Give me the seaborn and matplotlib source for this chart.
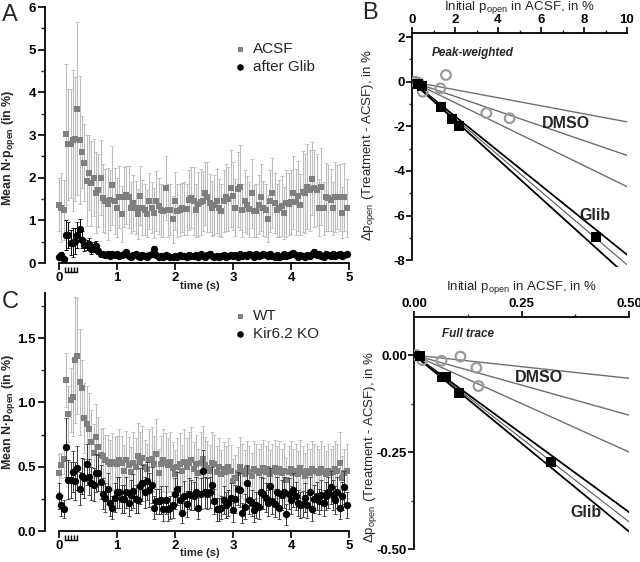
import numpy as np
import pandas as pd
import seaborn as sns
import matplotlib.pyplot as plt
from matplotlib.ticker import MultipleLocator

sns.set_theme(style='ticks')
plt.rcParams['font.family'] = ['Liberation Sans', 'DejaVu Sans']
plt.rcParams['mathtext.fontset'] = 'custom'
plt.rcParams['mathtext.rm'] = 'Liberation Sans'
plt.rcParams['mathtext.bf'] = 'Liberation Sans:bold'
plt.rcParams['mathtext.it'] = 'Liberation Sans:italic'

# time bins (s)
time = np.arange(125) * 0.04
stim_times = [0.10, 0.155, 0.21, 0.265, 0.32]

# Panel A: ACSF vs after Glib
acsf = [1.37, 1.30, 1.25, 3.02, 2.78, 2.80, 2.88, 2.90, 3.62, 2.88, 2.60, 2.35, 1.93, 2.12, 1.87, 2.00, 1.65, 1.70, 2.00, 1.52, 1.45, 1.38, 1.48, 1.82, 1.45,
        1.30, 1.55, 1.15, 1.55, 1.60, 1.55, 1.30, 1.40, 1.30, 1.15, 1.58, 1.30, 1.25, 1.15, 1.45, 1.30, 1.17, 1.46, 1.34, 1.24, 1.22, 1.75, 1.24, 1.25, 1.02,
        1.46, 1.22, 1.24, 1.30, 1.27, 1.26, 1.48, 1.53, 1.46, 1.24, 1.38, 1.43, 1.45, 1.63, 1.54, 1.40, 1.28, 1.36, 1.45, 1.30, 1.22, 1.45, 1.54, 1.50, 1.75,
        1.57, 1.30, 1.73, 1.77, 1.24, 1.45, 1.36, 1.26, 1.63, 1.22, 1.22, 1.37, 1.54, 1.28, 1.24, 1.04, 1.45, 1.63, 1.40, 1.24, 1.28, 1.34, 1.17, 1.40, 1.38,
        1.43, 1.65, 1.43, 1.57, 1.37, 1.67, 1.63, 1.79, 1.70, 1.98, 1.75, 1.71, 1.30, 1.79, 1.28, 1.55, 1.52, 1.48, 1.28, 1.54, 1.54, 1.54, 1.18, 1.54, 1.30]
acsf_err = [0.62, 0.80, 0.70, 1.65, 1.30, 1.27, 1.65, 1.45, 2.03, 1.50, 0.85, 0.90, 1.07, 0.88, 1.00, 0.90, 0.95, 0.85, 0.88, 0.80, 0.75, 0.85, 0.70, 0.92, 0.78,
            0.70, 0.72, 0.65, 0.70, 0.68, 0.72, 0.60, 0.66, 0.62, 0.58, 0.70, 0.64, 0.60, 0.55, 0.66, 0.60, 0.58, 0.70, 0.65, 0.62, 0.60, 0.75, 0.62, 0.60, 0.55,
            0.68, 0.62, 0.60, 0.58, 0.62, 0.60, 0.70, 0.72, 0.80, 0.62, 0.75, 0.78, 0.70, 0.74, 0.82, 0.68, 0.64, 0.70, 0.75, 0.66, 0.62, 0.72, 0.78, 0.74, 0.90,
            0.80, 0.66, 0.88, 1.00, 0.62, 0.72, 0.68, 0.64, 0.80, 0.60, 0.62, 0.70, 0.78, 0.64, 0.62, 0.55, 0.72, 0.82, 0.70, 0.62, 0.66, 0.70, 0.60, 0.78, 0.72,
            0.75, 0.85, 0.78, 0.82, 0.72, 0.95, 0.92, 1.00, 0.95, 0.85, 0.90, 0.85, 0.66, 0.90, 0.62, 0.80, 0.78, 0.72, 0.62, 0.82, 0.75, 0.78, 0.60, 0.80, 0.68]
glib = [0.15, 0.18, 0.10, 0.65, 0.65, 0.48, 0.48, 0.52, 0.65, 0.80, 0.55, 0.42, 0.42, 0.45, 0.32, 0.38, 0.40, 0.28, 0.22, 0.20, 0.18, 0.22, 0.17, 0.20, 0.18,
        0.20, 0.16, 0.18, 0.22, 0.25, 0.17, 0.15, 0.18, 0.20, 0.16, 0.15, 0.19, 0.17, 0.15, 0.18, 0.20, 0.32, 0.18, 0.15, 0.17, 0.14, 0.18, 0.16, 0.15, 0.14,
        0.17, 0.15, 0.18, 0.16, 0.17, 0.15, 0.19, 0.17, 0.16, 0.18, 0.15, 0.20, 0.16, 0.14, 0.18, 0.21, 0.16, 0.15, 0.17, 0.14, 0.16, 0.18, 0.15, 0.17, 0.19,
        0.16, 0.18, 0.15, 0.20, 0.17, 0.19, 0.16, 0.21, 0.18, 0.15, 0.20, 0.17, 0.19, 0.22, 0.18, 0.16, 0.21, 0.17, 0.15, 0.19, 0.14, 0.17, 0.20, 0.16, 0.18,
        0.20, 0.24, 0.18, 0.15, 0.19, 0.17, 0.14, 0.18, 0.16, 0.20, 0.25, 0.19, 0.22, 0.17, 0.15, 0.20, 0.18, 0.16, 0.21, 0.17, 0.19, 0.22, 0.16, 0.18, 0.20]
glib_err = [0.06, 0.08, 0.05, 0.35, 0.30, 0.30, 0.35, 0.30, 0.30, 0.22, 0.20, 0.15, 0.12, 0.14, 0.10, 0.12, 0.12, 0.08, 0.07, 0.06, 0.05, 0.06, 0.05, 0.06, 0.05,
            0.06, 0.05, 0.05, 0.07, 0.06, 0.05, 0.04, 0.05, 0.06, 0.05, 0.04, 0.06, 0.05, 0.04, 0.05, 0.06, 0.08, 0.05, 0.04, 0.05, 0.04, 0.05, 0.05, 0.04, 0.04,
            0.05, 0.04, 0.05, 0.05, 0.05, 0.04, 0.06, 0.05, 0.05, 0.05, 0.04, 0.06, 0.05, 0.04, 0.05, 0.06, 0.05, 0.04, 0.05, 0.04, 0.05, 0.05, 0.04, 0.05, 0.06,
            0.05, 0.05, 0.04, 0.06, 0.05, 0.05, 0.05, 0.06, 0.05, 0.04, 0.06, 0.05, 0.05, 0.06, 0.05, 0.05, 0.06, 0.05, 0.04, 0.05, 0.04, 0.05, 0.06, 0.05, 0.05,
            0.06, 0.07, 0.05, 0.04, 0.05, 0.05, 0.04, 0.05, 0.05, 0.06, 0.07, 0.05, 0.06, 0.05, 0.04, 0.06, 0.05, 0.05, 0.06, 0.05, 0.05, 0.06, 0.05, 0.05, 0.06]

# Panel C: WT vs Kir6.2 KO
wt = [0.45, 0.51, 0.56, 1.17, 0.91, 1.02, 1.04, 1.33, 1.36, 1.16, 1.11, 0.88, 0.83, 0.79, 0.69, 0.61, 0.73, 0.65, 0.59, 0.58, 0.55, 0.54, 0.52, 0.54, 0.53,
      0.52, 0.55, 0.53, 0.47, 0.55, 0.51, 0.46, 0.53, 0.50, 0.58, 0.54, 0.57, 0.50, 0.48, 0.55, 0.56, 0.52, 0.60, 0.45, 0.52, 0.55, 0.53, 0.51, 0.54, 0.49,
      0.44, 0.50, 0.52, 0.47, 0.54, 0.50, 0.53, 0.55, 0.48, 0.52, 0.45, 0.53, 0.56, 0.51, 0.49, 0.47, 0.53, 0.52, 0.46, 0.50, 0.44, 0.48, 0.46, 0.50, 0.47,
      0.39, 0.41, 0.45, 0.50, 0.47, 0.44, 0.48, 0.46, 0.43, 0.48, 0.47, 0.45, 0.47, 0.49, 0.46, 0.48, 0.44, 0.47, 0.49, 0.46, 0.48, 0.45, 0.47, 0.40, 0.46,
      0.48, 0.45, 0.47, 0.44, 0.49, 0.46, 0.43, 0.47, 0.45, 0.48, 0.47, 0.46, 0.45, 0.48, 0.46, 0.44, 0.47, 0.45, 0.46, 0.48, 0.47, 0.53, 0.41, 0.45, 0.47]
wt_err = [0.15, 0.10, 0.12, 0.21, 0.22, 0.25, 0.30, 0.49, 0.45, 0.41, 0.22, 0.27, 0.30, 0.28, 0.25, 0.22, 0.26, 0.24, 0.20, 0.22, 0.20, 0.21, 0.19, 0.22, 0.20,
          0.22, 0.24, 0.21, 0.20, 0.23, 0.22, 0.19, 0.24, 0.22, 0.26, 0.23, 0.25, 0.21, 0.20, 0.24, 0.25, 0.22, 0.27, 0.19, 0.22, 0.24, 0.23, 0.21, 0.23, 0.20,
          0.19, 0.22, 0.24, 0.20, 0.25, 0.22, 0.24, 0.26, 0.21, 0.23, 0.19, 0.24, 0.26, 0.22, 0.21, 0.20, 0.24, 0.23, 0.20, 0.22, 0.19, 0.21, 0.20, 0.22, 0.20,
          0.17, 0.18, 0.20, 0.23, 0.21, 0.19, 0.22, 0.20, 0.18, 0.22, 0.21, 0.19, 0.21, 0.22, 0.20, 0.22, 0.19, 0.21, 0.22, 0.20, 0.22, 0.19, 0.21, 0.17, 0.20,
          0.22, 0.19, 0.21, 0.18, 0.22, 0.20, 0.18, 0.21, 0.19, 0.22, 0.21, 0.20, 0.19, 0.22, 0.20, 0.18, 0.21, 0.19, 0.20, 0.22, 0.21, 0.24, 0.17, 0.19, 0.21]
ko = [0.27, 0.20, 0.17, 0.65, 0.40, 0.40, 0.46, 0.39, 0.49, 0.33, 0.43, 0.41, 0.52, 0.42, 0.37, 0.36, 0.45, 0.45, 0.38, 0.29, 0.26, 0.33, 0.22, 0.18, 0.26,
      0.30, 0.30, 0.25, 0.25, 0.30, 0.22, 0.28, 0.31, 0.25, 0.24, 0.35, 0.37, 0.30, 0.39, 0.32, 0.36, 0.18, 0.23, 0.23, 0.24, 0.17, 0.24, 0.17, 0.18, 0.20,
      0.29, 0.33, 0.24, 0.14, 0.27, 0.21, 0.29, 0.28, 0.27, 0.30, 0.18, 0.29, 0.47, 0.30, 0.29, 0.30, 0.36, 0.23, 0.17, 0.17, 0.18, 0.24, 0.20, 0.22, 0.26,
      0.16, 0.25, 0.33, 0.32, 0.14, 0.19, 0.37, 0.24, 0.22, 0.16, 0.20, 0.19, 0.30, 0.29, 0.26, 0.22, 0.35, 0.23, 0.21, 0.30, 0.18, 0.28, 0.30, 0.13, 0.29,
      0.24, 0.32, 0.27, 0.22, 0.20, 0.21, 0.26, 0.20, 0.30, 0.17, 0.25, 0.27, 0.23, 0.28, 0.22, 0.27, 0.30, 0.34, 0.28, 0.24, 0.30, 0.18, 0.27, 0.34, 0.20]
ko_err = [0.10, 0.08, 0.07, 0.23, 0.15, 0.14, 0.16, 0.15, 0.17, 0.13, 0.14, 0.15, 0.16, 0.14, 0.13, 0.13, 0.15, 0.14, 0.13, 0.12, 0.11, 0.12, 0.10, 0.09, 0.11,
          0.12, 0.12, 0.11, 0.11, 0.12, 0.10, 0.12, 0.13, 0.11, 0.10, 0.14, 0.14, 0.12, 0.15, 0.13, 0.14, 0.09, 0.10, 0.10, 0.11, 0.09, 0.11, 0.09, 0.09, 0.10,
          0.12, 0.13, 0.11, 0.08, 0.12, 0.10, 0.12, 0.12, 0.11, 0.12, 0.09, 0.12, 0.16, 0.12, 0.12, 0.12, 0.14, 0.10, 0.09, 0.09, 0.09, 0.11, 0.10, 0.10, 0.11,
          0.09, 0.11, 0.13, 0.13, 0.08, 0.10, 0.14, 0.11, 0.10, 0.09, 0.10, 0.10, 0.12, 0.12, 0.11, 0.10, 0.14, 0.10, 0.10, 0.12, 0.09, 0.12, 0.12, 0.08, 0.12,
          0.11, 0.13, 0.11, 0.10, 0.10, 0.10, 0.11, 0.10, 0.12, 0.09, 0.11, 0.11, 0.10, 0.12, 0.10, 0.11, 0.12, 0.13, 0.12, 0.11, 0.12, 0.09, 0.11, 0.13, 0.10]

# Panel B: peak-weighted
b_glib_x = [0.26, 0.47, 1.36, 1.88, 2.17, 8.57]
b_glib_y = [-0.12, -0.20, -1.12, -1.68, -2.0, -6.95]
b_dmso_x = [0.15, 0.30, 0.50, 1.32, 1.58, 3.46, 4.54]
b_dmso_y = [0.0, -0.05, -0.45, -0.30, 0.30, -1.40, -1.64]
b_glib_slopes = [-0.775, -0.82, -0.87]
b_dmso_slopes = [-0.18, -0.33, -0.47]

# Panel D: full trace
d_glib_x = [0.013, 0.064, 0.074, 0.104, 0.319]
d_glib_y = [-0.003, -0.057, -0.057, -0.097, -0.277]
d_dmso_x = [0.005, 0.019, 0.064, 0.108, 0.145, 0.150]
d_dmso_y = [0.0, -0.013, -0.015, -0.004, -0.033, -0.080]
d_glib_slopes = [-0.81, -0.86, -0.91]
d_dmso_slopes = [-0.12, -0.31, -0.50]

GREY_MK = '#7f7f7f'
GREY_EB = '#bdbdbd'
W, H = 640, 562

fig = plt.figure(figsize=(6.4, 5.62), dpi=100)


def px_axes(left, top, right, bottom):
    return fig.add_axes([left / W, 1 - bottom / H, (right - left) / W, (bottom - top) / H])


def time_panel(ax, y1, e1, y2, e2, names, ylim, major, minor, ylabel_y, black_eb,
               leg_y, xlab_y, fmt=None):
    df = pd.DataFrame({
        'time': np.concatenate([time, time]),
        'value': np.concatenate([y1, y2]),
        'group': [names[0]] * len(time) + [names[1]] * len(time),
    })
    ax.errorbar(time, y1, yerr=e1, fmt='none', ecolor=GREY_EB, elinewidth=0.8,
                capsize=1.5, capthick=0.6, zorder=1)
    ax.errorbar(time, y2, yerr=e2, fmt='none', ecolor=black_eb, elinewidth=0.7,
                capsize=1.5, capthick=0.6, zorder=3)
    sns.scatterplot(data=df[df.group == names[0]], x='time', y='value', ax=ax,
                    marker='s', color=GREY_MK, s=16, linewidth=0, zorder=2,
                    label=names[0], clip_on=False)
    sns.scatterplot(data=df[df.group == names[1]], x='time', y='value', ax=ax,
                    marker='o', color='black', s=28, linewidth=0, zorder=4,
                    label=names[1], clip_on=False)
    ax.set_xlim(-0.05, 5.05)
    ax.set_ylim(*ylim)
    ax.set_xticks([0, 1, 2, 3, 4, 5])
    ax.yaxis.set_major_locator(MultipleLocator(major))
    ax.yaxis.set_minor_locator(MultipleLocator(minor))
    if fmt is not None:
        ax.yaxis.set_major_formatter(plt.FormatStrFormatter(fmt))
    sns.despine(ax=ax)
    ax.spines['left'].set_position(('outward', 8))
    ax.spines['bottom'].set_bounds(0, 5)
    for sp in ('left', 'bottom'):
        ax.spines[sp].set_linewidth(1.3)
        ax.spines[sp].set_color('black')
    ax.tick_params(which='major', direction='out', length=5, width=1.2,
                   labelsize=9.5, pad=1.5, colors='black')
    ax.tick_params(which='minor', direction='out', length=3, width=1.0)
    for lab in ax.get_xticklabels() + ax.get_yticklabels():
        lab.set_fontweight('bold')
    ax.set_xlabel('time (s)', fontsize=8, fontweight='bold')
    ax.xaxis.set_label_coords(0.487, xlab_y)
    ax.set_ylabel(r'Mean N·p$_{\mathbf{open}}$ (in %)', fontsize=9, fontweight='bold')
    ax.yaxis.set_label_coords(-0.132, ylabel_y)
    # stimulus comb under the axis
    trans = ax.get_xaxis_transform()
    h = ax.get_window_extent().height
    ax.vlines(stim_times, -9 / h, -4 / h, transform=trans, color='black',
              lw=1.0, clip_on=False)
    ax.plot([stim_times[0], stim_times[-1]], [-9 / h, -9 / h], transform=trans,
            color='black', lw=1.0, clip_on=False)
    ax.legend(loc='upper left', bbox_to_anchor=(0.548, leg_y), frameon=False,
              fontsize=11, handletextpad=0.4, labelspacing=0.25,
              handlelength=1.0, markerscale=0.9)


def scatter_panel(ax, gx, gy, dx, dy, gsl, dsl, xmax, ylim, ymin_sp, xmaj, xmin_, ymaj, ymin_,
                  fmt, title, title_xy, dmso_xy, glib_xy, xlab_y, ylab_y):
    for s in dsl:
        sns.lineplot(x=[0, xmax], y=[0, s * xmax], ax=ax, color='#6e6e6e', lw=1.0, zorder=1)
    for k, s in enumerate(gsl):
        sns.lineplot(x=[0, xmax], y=[0, s * xmax], ax=ax,
                     color='black' if k != 1 else '#5a5a5a',
                     lw=1.3 if k != 1 else 0.8, zorder=2)
    sns.scatterplot(x=dx, y=dy, ax=ax, marker='o', s=48, facecolor='none',
                    edgecolor='#9a9a9a', linewidth=1.6, zorder=3)
    sns.scatterplot(x=gx, y=gy, ax=ax, marker='s', s=55, color='black',
                    linewidth=0, zorder=4)
    ax.set_xlim(0, xmax)
    ax.set_ylim(*ylim)
    ax.xaxis.set_major_locator(MultipleLocator(xmaj))
    ax.xaxis.set_minor_locator(MultipleLocator(xmin_))
    ax.yaxis.set_major_locator(MultipleLocator(ymaj))
    ax.yaxis.set_minor_locator(MultipleLocator(ymin_))
    ax.xaxis.set_major_formatter(plt.FormatStrFormatter(fmt))
    ax.yaxis.set_major_formatter(plt.FormatStrFormatter(fmt))
    ax.xaxis.tick_top()
    ax.xaxis.set_label_position('top')
    ax.spines['right'].set_visible(False)
    ax.spines['bottom'].set_visible(False)
    ax.spines['left'].set_bounds(ymin_sp, ylim[1])
    for sp in ('left', 'top'):
        ax.spines[sp].set_linewidth(1.3)
        ax.spines[sp].set_color('black')
    ax.tick_params(which='major', direction='out', length=4, width=1.2,
                   labelsize=9.5, pad=1.0, colors='black')
    ax.tick_params(which='minor', direction='out', length=2.5, width=1.0)
    for lab in ax.get_xticklabels() + ax.get_yticklabels():
        lab.set_fontweight('bold')
    ax.set_xlabel(r'Initial p$_{\mathrm{open}}$ in ACSF, in %', fontsize=9.5)
    ax.xaxis.set_label_coords(0.5, xlab_y)
    ax.xaxis.label.set_va('center')
    ax.set_ylabel(r'Δp$_{\mathrm{open}}$ (Treatment - ACSF), in %', fontsize=9.5)
    ax.yaxis.set_label_coords(-0.163, ylab_y)
    ax.text(*title_xy, title, fontsize=8.5, fontweight='bold', style='italic', va='center')
    ax.text(*dmso_xy, 'DMSO', fontsize=11.5, fontweight='bold', va='center')
    ax.text(*glib_xy, 'Glib', fontsize=11.5, fontweight='bold', va='center')
    ax.set_facecolor('none')


# A
axA = px_axes(56, 7, 352, 263)
time_panel(axA, acsf, acsf_err, glib, glib_err, ['ACSF', 'after Glib'],
           (0, 6), 1, 0.5, 0.45, 'black', 0.918, -0.07)

# C
axC = px_axes(56, 293, 352, 531)
time_panel(axC, wt, wt_err, ko, ko_err, ['WT', 'Kir6.2 KO'],
           (0, 1.85), 0.5, 0.25, 0.50, '#3a3a3a', 0.99, -0.071, fmt='%.1f')

# B
axB = px_axes(412, 33, 627, 267)
scatter_panel(axB, b_glib_x, b_glib_y, b_dmso_x, b_dmso_y, b_glib_slopes, b_dmso_slopes,
              10, (-8.3, 2.18), -8, 2, 1, 2, 1, '%d',
              'Peak-weighted', (0.93, 1.28), (6.05, -1.86), (7.8, -5.98), 1.111, 0.52)

# D
axD = px_axes(414, 317, 629, 549)
scatter_panel(axD, d_glib_x, d_glib_y, d_dmso_x, d_dmso_y, d_glib_slopes, d_dmso_slopes,
              0.5, (-0.5, 0.098), -0.5, 0.25, 0.125, 0.25, 0.125, '%.2f',
              'Full trace', (0.065, 0.054), (0.235, -0.057), (0.363, -0.405), 1.125, 0.44)

fig.text(2 / W, 1 - 4 / H, 'A', fontsize=17, va='top')
fig.text(362 / W, 1 - 2 / H, 'B', fontsize=17, va='top')
fig.text(2 / W, 1 - 291 / H, 'C', fontsize=17, va='top')

fig.savefig('out.png', dpi=100)
